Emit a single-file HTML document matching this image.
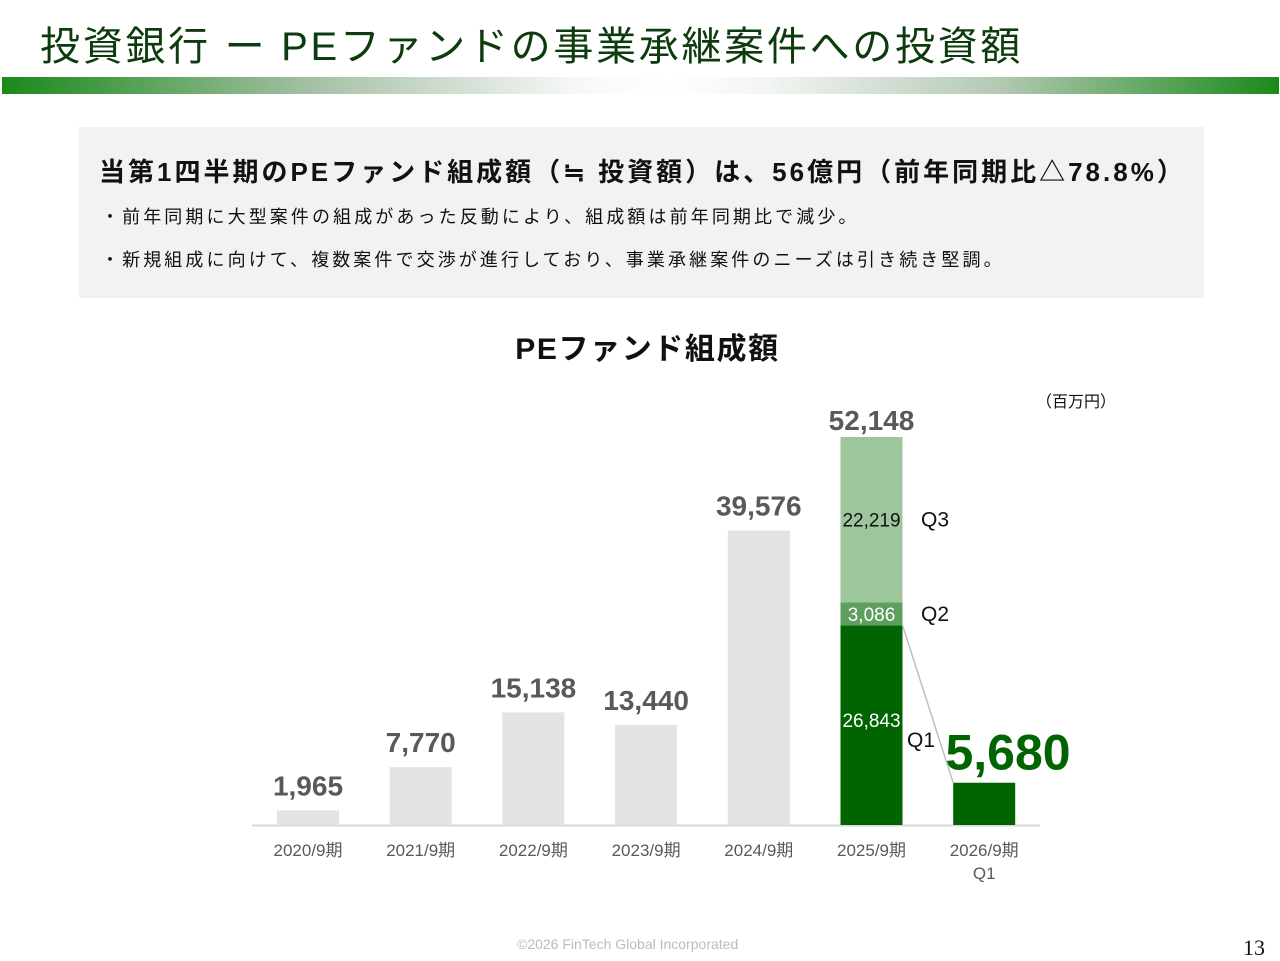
<!DOCTYPE html>
<html><head><meta charset="utf-8">
<style>
body{margin:0;width:1280px;height:960px;background:#fff;position:relative;overflow:hidden;font-family:"Liberation Sans","Noto Sans CJK JP",sans-serif}
.abs{position:absolute}
</style></head><body>
<div class="abs" style="left:40px;top:14px;font-size:40px;color:#0d3b0d;white-space:nowrap;letter-spacing:2.7px">投資銀行 ー PEファンドの事業承継案件への投資額</div>
<div class="abs" style="left:2px;top:77px;width:1277px;height:17px;background:linear-gradient(90deg,#1a8a1a 0%,#a9c2a9 25%,#f6f8f6 45%,#fff 52%,#f2f5f2 60%,#b4c9b4 78%,#1a8a1a 100%)"></div>
<div class="abs" style="left:79px;top:127px;width:1125px;height:171px;background:#f2f2f2">
 <div class="abs" style="left:20px;top:25px;font-size:26px;font-weight:bold;color:#111;white-space:nowrap;letter-spacing:3px">当第1四半期のPEファンド組成額（≒ 投資額）は、56億円（前年同期比△78.8%）</div>
 <div class="abs" style="left:22px;top:76px;font-size:18px;color:#111;white-space:nowrap;letter-spacing:3.1px">・前年同期に大型案件の組成があった反動により、組成額は前年同期比で減少。</div>
 <div class="abs" style="left:22px;top:119px;font-size:18px;color:#111;white-space:nowrap;letter-spacing:3.1px">・新規組成に向けて、複数案件で交渉が進行しており、事業承継案件のニーズは引き続き堅調。</div>
</div>
<div class="abs" style="left:0;width:1295px;text-align:center;top:324px;font-size:30px;font-weight:bold;color:#111;letter-spacing:1.6px">PEファンド組成額</div>
<div class="abs" style="left:1036px;top:388px;font-size:16px;color:#111">（百万円）</div>
<svg class="abs" style="left:0;top:0" width="1280" height="960" id="chart"></svg>
<div class="abs" style="left:517px;top:936px;font-size:14px;color:#bbb">©2026 FinTech Global Incorporated</div>
<div class="abs" style="left:1243px;top:935px;font-size:22px;color:#111;font-family:'Liberation Serif',serif">13</div>
<script>
const categories=["2020/9期","2021/9期","2022/9期","2023/9期","2024/9期","2025/9期","2026/9期"];
const totals=[1965,7770,15138,13440,39576,52148,5680];
const q1=26843, q2=3086, q3=22219;
const ns="http://www.w3.org/2000/svg";
const svg=document.getElementById('chart');
const base=825, scale=388/52148, x0=308, step=112.7, bw=62;
const y=v=>base-v*scale, xc=i=>x0+i*step;
function el(t,a,txt){const e=document.createElementNS(ns,t);for(const k in a)e.setAttribute(k,a[k]);if(txt!==undefined)e.textContent=txt;svg.appendChild(e);return e;}
const ax=el('line',{x1:252,x2:1040,y1:base+0.5,y2:base+0.5,stroke:'#d9d9d9','stroke-width':2});

categories.forEach((c,i)=>{
 const cx=xc(i);
 if(i<5){
  const r=el('rect',{x:cx-bw/2,y:y(totals[i]),width:bw,height:base-y(totals[i]),fill:'#e3e3e3'});
  
  const t=el('text',{x:cx,y:y(totals[i])-15,'text-anchor':'middle','font-size':28,'font-weight':'bold',fill:'#595959'},totals[i].toLocaleString('en-US'));
  
 }
 const l=el('text',{x:cx,y:856,'text-anchor':'middle','font-size':17,fill:'#595959'},c);
 
});
const l2=el('text',{x:xc(6),y:879,'text-anchor':'middle','font-size':17,fill:'#595959'},'Q1');

const sx=xc(5)-bw/2, segs=[[q1,'#006400','#fff','Q1'],[q2,'#5e9e5e','#fff','Q2'],[q3,'#9dc69d','#111','Q3']];
let acc=0;
segs.forEach(([v,f,tc,q])=>{
 const top=y(acc+v),bot=y(acc);
 const r=el('rect',{x:sx,y:top,width:bw,height:bot-top,fill:f});
 
 const my=(top+bot)/2+7;
 const ty=q==='Q1'?my-5:my;
 const t=el('text',{x:xc(5),y:ty,'text-anchor':'middle','font-size':19,fill:tc},v.toLocaleString('en-US'));
 
 const qt=el('text',{x:q==='Q1'?907:921,y:q==='Q1'?my+15:my,'font-size':21,fill:'#111'},q);
 
 acc+=v;
});
const tt=el('text',{x:xc(5),y:y(totals[5])-7,'text-anchor':'middle','font-size':28,'font-weight':'bold',fill:'#595959'},totals[5].toLocaleString('en-US'));

const ln=el('line',{x1:xc(5)+bw/2,y1:y(q1),x2:xc(6)-bw/2,y2:y(totals[6]),stroke:'#bfbfbf','stroke-width':1.5});

const r6=el('rect',{x:xc(6)-bw/2,y:y(totals[6]),width:bw,height:base-y(totals[6]),fill:'#006400'});

const t6=el('text',{x:1008,y:y(totals[6])-13,'text-anchor':'middle','font-size':50,'font-weight':'bold',fill:'#006400'},totals[6].toLocaleString('en-US'));

</script>
</body></html>
